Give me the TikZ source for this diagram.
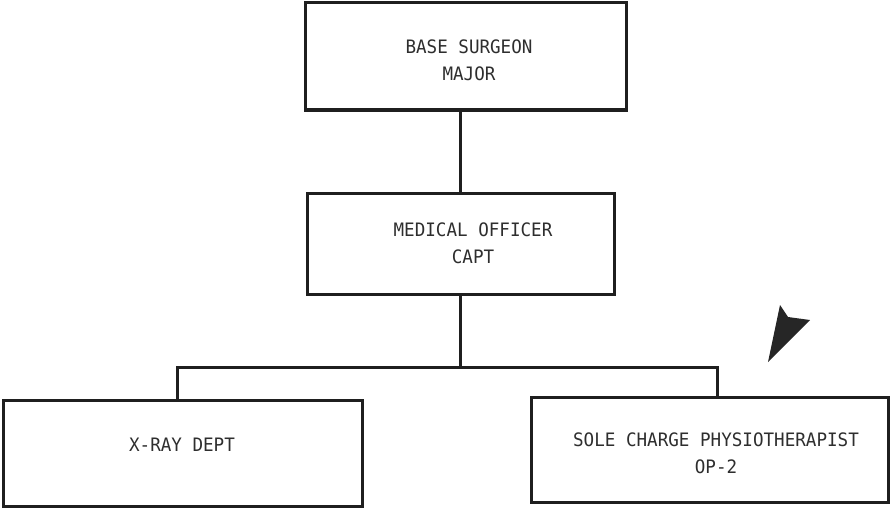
\documentclass[tikz,border=0pt]{standalone}
\usepackage{fontspec}
\setmonofont[FakeStretch=0.95]{DejaVu Sans Mono}
\begin{document}
\begin{tikzpicture}[x=1pt,y=-1pt,
  box/.style={draw=black!88, line width=3pt, inner sep=0pt},
  txt/.style={align=center, inner sep=0pt, text=black!82,
    font=\ttfamily\fontsize{18.5}{27}\selectfont},
  conn/.style={draw=black!88, line width=3pt}]
\useasboundingbox[fill=white] (0,0) rectangle (890,508);
\node[box, minimum width=321pt, minimum height=107pt] (base) at (465.5,56.5) {};
\node[box, minimum width=307pt, minimum height=101pt] (med) at (460.5,243.5) {};
\node[box, minimum width=359pt, minimum height=106pt] (xray) at (182.5,453) {};
\node[box, minimum width=357pt, minimum height=105pt] (physio) at (709.5,449.5) {};
\node[txt] (baseT) at (469,60.5) {BASE SURGEON\\MAJOR};
\node[txt] (medT) at (473,243.5) {MEDICAL OFFICER\\CAPT};
\node[txt] (xrayT) at (182,445) {X-RAY DEPT};
\node[txt] (physioT) at (716,453.5) {SOLE CHARGE PHYSIOTHERAPIST\\OP-2};
\coordinate (bl) at (177,367);
\coordinate (br) at (717,367);
\draw[conn] (med.north) -- (med.north |- base.south);
\draw[conn] (med.south) -- (med.south |- bl);
\draw[conn] (bl |- xray.north) -- (bl) -- (br) -- (br |- physio.north);
\fill[black!85] (780,305) -- (788,317) -- (810,320) -- (768,362) -- cycle;
\end{tikzpicture}
\end{document}
